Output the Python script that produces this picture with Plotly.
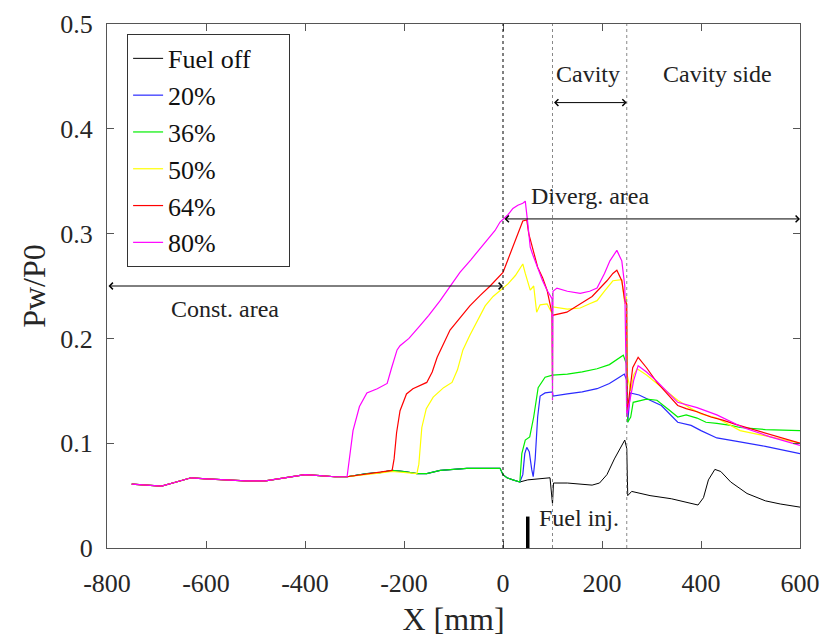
import plotly.graph_objects as go

# ---------------- data ----------------
BASE_X = [-750, -720, -690, -660, -630, -600, -560, -520, -480, -440, -400, -370, -340, -315]
BASE_Y = [0.061, 0.060, 0.059, 0.063, 0.067, 0.066, 0.065, 0.064, 0.064, 0.067, 0.070, 0.069, 0.068, 0.068]

# upstream part shared by fuel-off / 20% / 36% (-300 .. 0)
UP_X = [-300, -275, -248, -224, -200, -174, -154, -127, -100, -73, -40, -6, 0, 8, 20, 34]
UP_Y = [0.069, 0.071, 0.072, 0.074, 0.073, 0.071, 0.071, 0.074, 0.075, 0.076, 0.076, 0.076, 0.070, 0.067, 0.065, 0.063]

OFF_X = [50, 70, 95, 100, 102, 130, 160, 180, 195, 210, 225, 238, 246, 250, 252, 260, 297, 340, 380,
         394, 405, 415, 428, 440, 460, 493, 530, 560, 600]
OFF_Y = [0.065, 0.066, 0.067, 0.042, 0.062, 0.062, 0.061, 0.060, 0.062, 0.070, 0.085, 0.097, 0.103,
         0.095, 0.050, 0.054, 0.050, 0.047, 0.043, 0.041, 0.048, 0.065, 0.075, 0.073, 0.063, 0.052,
         0.045, 0.042, 0.039]

F20_X = [40, 44, 48, 53, 58, 61, 65, 70, 75, 85, 100, 101, 130, 160, 190, 215, 235, 245, 250, 252,
         257, 275, 297, 320, 353, 380, 400, 432, 470, 530, 600]
F20_Y = [0.070, 0.090, 0.096, 0.092, 0.075, 0.068, 0.085, 0.125, 0.145, 0.148, 0.149, 0.145, 0.147,
         0.149, 0.152, 0.157, 0.163, 0.166, 0.160, 0.120, 0.148, 0.146, 0.141, 0.136, 0.120, 0.117,
         0.112, 0.105, 0.102, 0.097, 0.090]

F36_X = [38, 45, 54, 62, 71, 85, 100, 130, 160, 190, 215, 235, 243, 249, 252, 258, 263, 290, 311,
         335, 353, 370, 392, 410, 432, 460, 479, 530, 600]
F36_Y = [0.090, 0.103, 0.106, 0.125, 0.153, 0.163, 0.165, 0.166, 0.168, 0.171, 0.175, 0.182, 0.184,
         0.176, 0.120, 0.125, 0.139, 0.142, 0.141, 0.132, 0.125, 0.127, 0.124, 0.120, 0.119, 0.117,
         0.115, 0.113, 0.112]

F50_X = [-300, -260, -224, -174, -170, -166, -164, -155, -141, -120, -103, -92, -81, -67, -50, -36,
         -20, -6, 10, 25, 40, 45, 55, 62, 68, 75, 89, 98, 101, 130, 156, 175, 190, 205, 222, 240,
         246, 249, 251, 258, 264, 271, 290, 311, 330, 353, 380, 400, 432, 479, 540, 600]
F50_Y = [0.069, 0.071, 0.073, 0.071, 0.080, 0.100, 0.115, 0.133, 0.144, 0.153, 0.158, 0.170, 0.189,
         0.203, 0.218, 0.231, 0.240, 0.246, 0.252, 0.260, 0.271, 0.262, 0.246, 0.250, 0.225, 0.232,
         0.233, 0.225, 0.230, 0.228, 0.229, 0.233, 0.236, 0.245, 0.255, 0.256, 0.233, 0.240, 0.165,
         0.150, 0.165, 0.171, 0.165, 0.157, 0.150, 0.141, 0.133, 0.128, 0.124, 0.112, 0.106, 0.100]

F64_X = [-300, -260, -230, -224, -220, -215, -208, -195, -182, -165, -154, -143, -133, -107, -67,
         -46, -26, 0, 20, 40, 48, 52, 61, 70, 80, 89, 99, 100, 100, 129, 156, 180, 210, 222, 230, 240,
         246, 250, 251, 256, 262, 273, 290, 311, 330, 353, 370, 392, 420, 444, 470, 499, 550, 600]
F64_Y = [0.069, 0.071, 0.073, 0.074, 0.085, 0.110, 0.131, 0.147, 0.152, 0.156, 0.158, 0.168, 0.182,
         0.208, 0.231, 0.241, 0.250, 0.263, 0.287, 0.312, 0.313, 0.300, 0.284, 0.268, 0.258, 0.246,
         0.224, 0.160, 0.222, 0.225, 0.233, 0.240, 0.255, 0.262, 0.265, 0.255, 0.236, 0.233, 0.130,
         0.150, 0.172, 0.182, 0.172, 0.158, 0.148, 0.136, 0.133, 0.130, 0.125, 0.122, 0.118, 0.114,
         0.107, 0.100]

F80_X = [-310, -303, -290, -275, -254, -240, -234, -225, -214, -208, -190, -168, -150, -127, -110,
         -87, -65, -46, -30, -16, -6, 10, 20, 30, 40, 45, 50, 55, 60, 69, 80, 89, 99, 100, 101, 109,
         130, 156, 175, 190, 205, 216, 230, 236, 240, 246, 250, 256, 264, 273, 290, 311, 335, 353,
         392, 432, 485, 540, 600]
F80_Y = [0.085, 0.112, 0.135, 0.148, 0.152, 0.155, 0.157, 0.172, 0.189, 0.193, 0.200, 0.212, 0.222,
         0.236, 0.248, 0.263, 0.275, 0.286, 0.295, 0.303, 0.311, 0.318, 0.324, 0.327, 0.329, 0.331,
         0.310, 0.287, 0.280, 0.268, 0.255, 0.246, 0.238, 0.141, 0.245, 0.248, 0.245, 0.243, 0.245,
         0.248, 0.262, 0.274, 0.284, 0.278, 0.274, 0.250, 0.125, 0.140, 0.160, 0.174, 0.168, 0.159,
         0.148, 0.139, 0.134, 0.127, 0.115, 0.106, 0.098]

NAMES = ["Fuel off", "20%", "36%", "50%", "64%", "80%"]
COLORS = ["#000000", "#2a2aff", "#00ee00", "#ffff00", "#ff0000", "#ff00ff"]
WIDTHS = [1.0, 1.2, 1.2, 1.2, 1.2, 1.2]

X_TICKS = [-800, -600, -400, -200, 0, 200, 400, 600]
Y_TICKS = [0, 0.1, 0.2, 0.3, 0.4, 0.5]

FONT = "Liberation Serif"

series = [
    (BASE_X + UP_X + OFF_X, BASE_Y + UP_Y + OFF_Y),
    (BASE_X + UP_X + F20_X, BASE_Y + UP_Y + F20_Y),
    (BASE_X + UP_X + F36_X, BASE_Y + UP_Y + F36_Y),
    (BASE_X + F50_X, BASE_Y + F50_Y),
    (BASE_X + F64_X, BASE_Y + F64_Y),
    (BASE_X + F80_X, BASE_Y + F80_Y),
]

fig = go.Figure()
for i, ((xs, ys), name, col, w) in enumerate(zip(series, NAMES, COLORS, WIDTHS)):
    # pad the widest legend entry so the legend box is as wide as the original
    shown = name + "\u00a0" * 5 if i == 0 else name
    fig.add_trace(go.Scatter(x=xs, y=ys, mode="lines", name=shown,
                             line=dict(color=col, width=w)))

# region dividers
fig.add_vline(x=0, line=dict(color="black", width=1, dash="dot"))
fig.add_vline(x=100, line=dict(color="#888888", width=1, dash="dot"))
fig.add_vline(x=250, line=dict(color="#888888", width=1, dash="dot"))

# fuel injection marker
fig.add_shape(type="line", x0=50, x1=50, y0=0, y1=0.03, xref="x", yref="y",
              line=dict(color="black", width=3.5))


def dbl_arrow(x0, x1, y):
    fig.add_annotation(x=x1, y=y, ax=x0, ay=y, xref="x", yref="y", axref="x", ayref="y",
                       text="", showarrow=True, arrowside="end+start", arrowhead=4,
                       startarrowhead=4, arrowsize=1.3, startarrowsize=1.3, arrowwidth=1,
                       arrowcolor="black", standoff=0, startstandoff=0)


dbl_arrow(-800, 0, 0.25)
dbl_arrow(0, 600, 0.314)
dbl_arrow(100, 250, 0.425)


def label(x, y, t, anchor="center"):
    fig.add_annotation(x=x, y=y, xref="x", yref="y", text=t, showarrow=False,
                       xanchor=anchor, font=dict(family=FONT, size=24, color="#222222"))


label(-562, 0.228, "Const. area")
label(176, 0.336, "Diverg. area")
label(171, 0.452, "Cavity")
label(434, 0.452, "Cavity side")
label(68, 0.029, "Fuel inj.", anchor="left")

axis_common = dict(showline=True, linecolor="#555555", linewidth=1, mirror="ticks",
                   ticks="inside", ticklen=7, tickcolor="#555555", showgrid=False,
                   zeroline=False, automargin=False,
                   tickfont=dict(family=FONT, size=26, color="#262626"))

fig.update_xaxes(range=[-800, 600], tickvals=X_TICKS, ticktext=[str(v) for v in X_TICKS],
                 ticklabelstandoff=12,
                 title=dict(text="X [mm]", font=dict(family=FONT, size=32, color="#262626"),
                            standoff=10), **axis_common)
fig.update_yaxes(range=[0, 0.5], tickvals=Y_TICKS, ticktext=["0", "0.1", "0.2", "0.3", "0.4", "0.5"],
                 ticklabelstandoff=8,
                 title=dict(text="Pw/P0", font=dict(family=FONT, size=32, color="#262626"),
                            standoff=5), **axis_common)

fig.update_layout(
    width=821, height=636,
    margin=dict(l=99, r=29, t=16, b=96),
    plot_bgcolor="white", paper_bgcolor="white",
    font=dict(family=FONT, color="#262626"),
    showlegend=True,
    legend=dict(x=0.029, y=0.981, xanchor="left", yanchor="top",
                bordercolor="#333333", borderwidth=1, bgcolor="white",
                font=dict(family=FONT, size=26, color="#111111"),
                itemwidth=30, tracegroupgap=0),
)

fig.write_html("out.html")
